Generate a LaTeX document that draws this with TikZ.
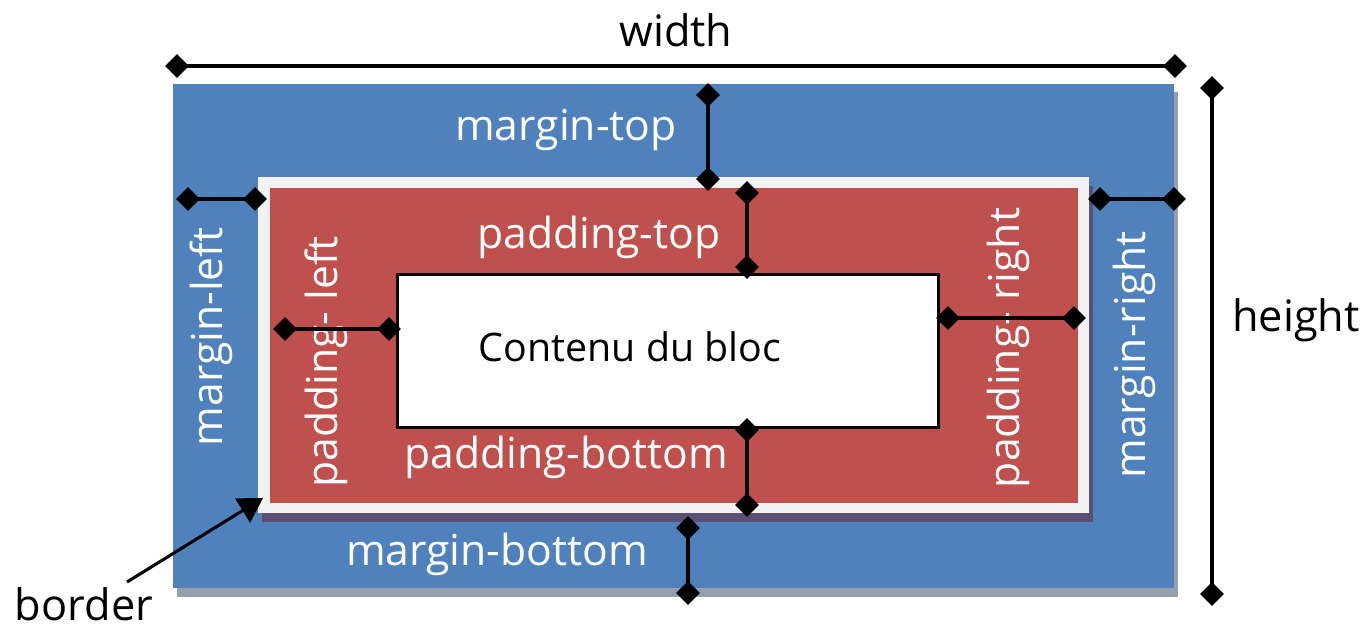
\documentclass[tikz,border=0pt]{standalone}
\usepackage{fontspec}
\setmainfont{Open Sans}
\usetikzlibrary{shapes.geometric,arrows.meta}
\definecolor{mblue}{HTML}{4F81BD}
\definecolor{mred}{HTML}{C0504D}
\definecolor{bgray}{HTML}{F2F2F2}
\definecolor{sgray}{HTML}{95A0AF}
\definecolor{sdark}{HTML}{5A5074}
\begin{document}
\begin{tikzpicture}[x=0.75pt,y=-0.75pt,
  dia/.style={diamond,fill=black,draw=none,inner sep=0pt,minimum size=18pt},
  dimline/.style={draw=black,line width=2.3pt},
  wlbl/.style={text=white,font=\fontsize{32}{38}\selectfont,inner sep=0pt},
  blbl/.style={text=black,font=\fontsize{32.5}{38}\selectfont,inner sep=0pt}]
\useasboundingbox (0,0) rectangle (1367,630);
% boxes
\fill[sgray] (177,92) rectangle (1178,597);
\fill[mblue] (173,84) rectangle (1174,588);
\fill[sdark] (262,186) rectangle (1093,522);
\fill[bgray] (258,177) rectangle (1089,513);
\fill[mred] (270,188) rectangle (1078,503);
\node[draw=black,line width=2.3pt,fill=white,minimum width=406pt,minimum height=115pt,inner sep=0pt] (content) at (668,351) {};
% labels
\node[blbl,anchor=base] (lwidth) at (676,47) {width};
\node[blbl] (lheight) at (1296,320) {height};
\node[wlbl] (lmt) at (566,130) {margin-top};
\node[wlbl] (lpt) at (599,237) {padding-top};
\node[blbl,font=\fontsize{29.5}{35}\selectfont] (lcontent) at (630,347) {Contenu du bloc};
\node[wlbl] (lpb) at (566,457) {padding-bottom};
\node[wlbl] (lmb) at (497,554) {margin-bottom};
\node[wlbl,rotate=90] (lml) at (211,337) {margin-left};
\node[wlbl,rotate=90] (lpl) at (326,362) {padding- left};
\node[wlbl,rotate=90] (lpr) at (1008,348) {padding- right};
\node[wlbl,rotate=90] (lmr) at (1134,355) {margin-right};
\node[blbl,anchor=base] (lborder) at (84,620) {border};
% diamonds
\node[dia] (w1) at (177,66) {};
\node[dia] (w2) at (1175,66) {};
\node[dia] (h1) at (1212,88) {};
\node[dia] (h2) at (1212,594) {};
\node[dia] (mt1) at (708,95) {};
\node[dia] (mt2) at (708,179) {};
\node[dia] (ml1) at (188,199) {};
\node[dia] (ml2) at (255,199) {};
\node[dia] (mr1) at (1100,199) {};
\node[dia] (mr2) at (1174,199) {};
\node[dia] (pt1) at (747,193) {};
\node[dia] (pt2) at (747,267) {};
\node[dia] (pl1) at (285,329) {};
\node[dia] (pl2) at (389,329) {};
\node[dia] (pr1) at (948,318) {};
\node[dia] (pr2) at (1074,318) {};
\node[dia] (pb1) at (747,430) {};
\node[dia] (pb2) at (747,505) {};
\node[dia] (mb1) at (688,528) {};
\node[dia] (mb2) at (688,593) {};
% dimension lines
\draw[dimline] (w1.center) -- (w2.center);
\draw[dimline] (h1.center) -- (h2.center);
\draw[dimline] (mt1.center) -- (mt2.center);
\draw[dimline] (ml1.center) -- (ml2.center);
\draw[dimline] (mr1.center) -- (mr2.center);
\draw[dimline] (pt1.center) -- (pt2.center);
\draw[dimline] (pl1.center) -- (pl2.center);
\draw[dimline] (pr1.center) -- (pr2.center);
\draw[dimline] (pb1.center) -- (pb2.center);
\draw[dimline] (mb1.center) -- (mb2.center);
% border arrow
\coordinate (bstart) at (127,582);
\coordinate (btip) at (263,498);
\draw[line width=2.3pt,-{Triangle[length=18pt,width=21pt]}] (bstart) -- (btip);
\end{tikzpicture}
\end{document}
